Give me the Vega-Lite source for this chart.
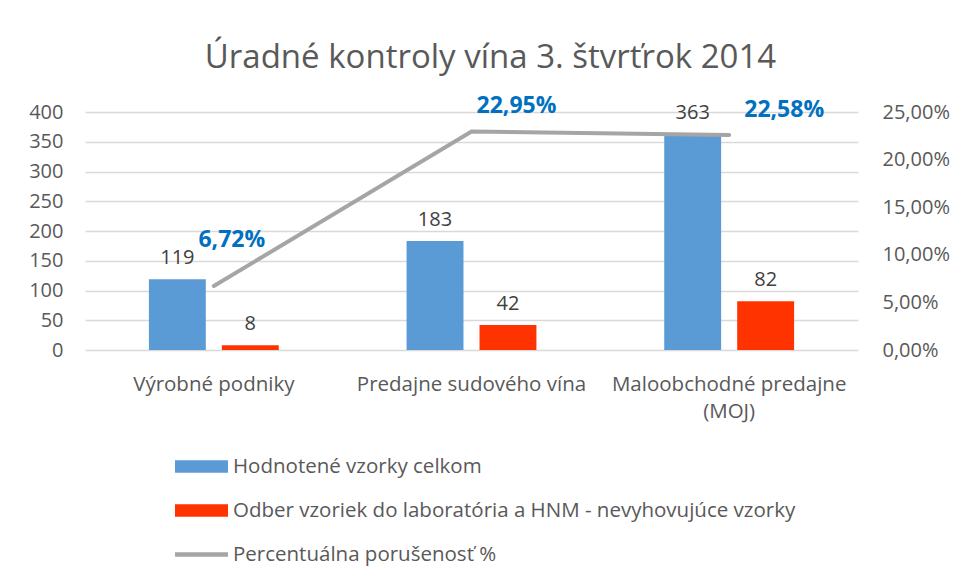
{
  "$schema": "https://vega.github.io/schema/vega-lite/v6.json",
  "autosize": {"type": "none"},
  "width": 773,
  "height": 238,
  "padding": {"left": 85, "top": 112, "right": 100, "bottom": 233},
  "background": "white",
  "config": {
    "font": "Open Sans",
    "view": {"stroke": null},
    "locale": {"number": {"decimal": ",", "thousands": " ", "grouping": [3], "currency": ["", " €"]}}
  },
  "title": {
    "text": "Úradné kontroly vína 3. štvrťrok 2014",
    "fontSize": 33,
    "font": "Open Sans",
    "fontWeight": "normal",
    "color": "#595959",
    "anchor": "middle",
    "dx": 19,
    "offset": 20
  },
  "datasets": {
    "bars": [
      {"kategoria": "Výrobné podniky", "rad": "Hodnotené vzorky celkom", "pocet": 119},
      {"kategoria": "Výrobné podniky", "rad": "Odber vzoriek do laboratória a HNM -  nevyhovujúce vzorky", "pocet": 8},
      {"kategoria": "Predajne sudového vína", "rad": "Hodnotené vzorky celkom", "pocet": 183},
      {"kategoria": "Predajne sudového vína", "rad": "Odber vzoriek do laboratória a HNM -  nevyhovujúce vzorky", "pocet": 42},
      {"kategoria": "Maloobchodné predajne (MOJ)", "rad": "Hodnotené vzorky celkom", "pocet": 363},
      {"kategoria": "Maloobchodné predajne (MOJ)", "rad": "Odber vzoriek do laboratória a HNM -  nevyhovujúce vzorky", "pocet": 82}
    ],
    "pct": [
      {"kategoria": "Výrobné podniky", "podiel": 0.0672},
      {"kategoria": "Predajne sudového vína", "podiel": 0.2295},
      {"kategoria": "Maloobchodné predajne (MOJ)", "podiel": 0.2258}
    ]
  },
  "layer": [
    {
      "data": {"name": "bars"},
      "encoding": {
        "x": {
          "field": "kategoria", "type": "nominal", "sort": null, "title": null,
          "scale": {"paddingInner": 0.496, "paddingOuter": 0.248},
          "axis": {
            "labelAngle": 0, "ticks": false, "tickSize": 0, "domain": false,
            "labelPadding": 24, "labelFontSize": 20.5, "labelColor": "#595959",
            "labelFont": "Open Sans", "labelLineHeight": 27, "labelLimit": 400,
            "labelExpr": "datum.value == 'Maloobchodné predajne (MOJ)' ? ['Maloobchodné predajne', '(MOJ)'] : datum.value"
          }
        },
        "xOffset": {"field": "rad", "type": "nominal", "sort": null, "scale": {"paddingInner": 0.22, "paddingOuter": 0}},
        "y": {
          "field": "pocet", "type": "quantitative", "title": null,
          "scale": {"domain": [0, 400], "nice": false},
          "axis": {
            "values": [0, 50, 100, 150, 200, 250, 300, 350, 400],
            "ticks": false, "domain": false, "labelPadding": 22,
            "labelFontSize": 20, "labelColor": "#595959", "labelFont": "Open Sans",
            "gridColor": "#D9D9D9", "gridWidth": 1.3
          }
        }
      },
      "layer": [
        {
          "mark": {"type": "bar"},
          "encoding": {
            "color": {
              "field": "rad", "type": "nominal", "title": null,
              "scale": {
                "domain": ["Hodnotené vzorky celkom", "Odber vzoriek do laboratória a HNM -  nevyhovujúce vzorky", "Percentuálna porušenosť %"],
                "range": ["#5B9BD5", "#FF3300", "#A5A5A5"]
              },
              "legend": {
                "orient": "none", "legendX": 90, "legendY": 328, "direction": "vertical",
                "labelFontSize": 20.5, "labelColor": "#595959", "labelFont": "Open Sans",
                "rowPadding": 7, "labelOffset": 5, "symbolSize": 2809, "symbolStrokeWidth": 0,
                "labelLimit": 800,
                "encode": {
                  "symbols": {
                    "update": {
                      "shape": {"signal": "datum.value == 'Percentuálna porušenosť %' ? 'M-1,-0.085H1V0.085H-1Z' : 'M-1,-0.24H1V0.24H-1Z'"}
                    }
                  }
                }
              }
            }
          }
        },
        {
          "mark": {"type": "text", "baseline": "bottom", "dy": -11, "fontSize": 20, "color": "#404040", "font": "Open Sans"},
          "encoding": {"text": {"field": "pocet", "type": "quantitative"}}
        }
      ]
    },
    {
      "data": {"name": "pct"},
      "encoding": {
        "x": {"field": "kategoria", "type": "nominal", "sort": null},
        "y": {
          "field": "podiel", "type": "quantitative", "title": null,
          "scale": {"domain": [0, 0.25], "nice": false},
          "axis": {
            "orient": "right", "values": [0, 0.05, 0.1, 0.15, 0.2, 0.25], "format": ".2%",
            "ticks": false, "domain": false, "grid": false, "labelPadding": 24,
            "labelFontSize": 20, "labelColor": "#595959", "labelFont": "Open Sans"
          }
        }
      },
      "layer": [
        {
          "mark": {"type": "line", "strokeWidth": 4, "strokeCap": "round", "color": "#A5A5A5"},
          "encoding": {"color": {"datum": "Percentuálna porušenosť %"}}
        },
        {
          "transform": [{"filter": "datum.kategoria == 'Výrobné podniky'"}],
          "mark": {"type": "text", "dx": 18, "dy": -46, "fontSize": 23, "fontWeight": "bold", "color": "#0070C0", "font": "Open Sans"},
          "encoding": {"text": {"field": "podiel", "type": "quantitative", "format": ".2%"}}
        },
        {
          "transform": [{"filter": "datum.kategoria == 'Predajne sudového vína'"}],
          "mark": {"type": "text", "dx": 45, "dy": -26, "fontSize": 23, "fontWeight": "bold", "color": "#0070C0", "font": "Open Sans"},
          "encoding": {"text": {"field": "podiel", "type": "quantitative", "format": ".2%"}}
        },
        {
          "transform": [{"filter": "datum.kategoria == 'Maloobchodné predajne (MOJ)'"}],
          "mark": {"type": "text", "dx": 55, "dy": -25, "fontSize": 23, "fontWeight": "bold", "color": "#0070C0", "font": "Open Sans"},
          "encoding": {"text": {"field": "podiel", "type": "quantitative", "format": ".2%"}}
        }
      ]
    }
  ],
  "resolve": {"scale": {"y": "independent"}}
}
